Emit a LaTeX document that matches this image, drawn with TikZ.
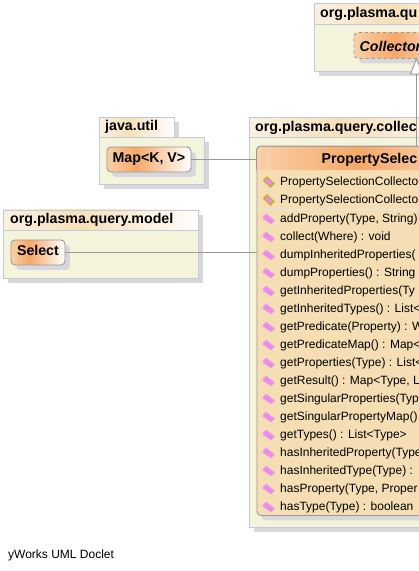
\documentclass[tikz,border=0pt]{standalone}
\usepackage{fontspec}
\setmainfont{Liberation Sans}
\usetikzlibrary{shadows}
\definecolor{pkgfill}{HTML}{F4F3DC}
\definecolor{pkgline}{HTML}{C4CADC}
\definecolor{pkgmid}{HTML}{F6E0B8}
\definecolor{pkgleft}{HTML}{FBF0E0}
\definecolor{shadowgray}{HTML}{D8D8DC}
\definecolor{classline}{HTML}{999999}
\definecolor{classmid}{HTML}{F5A868}
\definecolor{classleft}{HTML}{F9D0A8}
\definecolor{memberfill}{HTML}{F5DEB3}
\definecolor{iconpink}{HTML}{F088F0}
\definecolor{iconedge}{HTML}{E8A8E0}
\definecolor{ctoredge}{HTML}{C8B020}
\pgfdeclarehorizontalshading{classshade}{100bp}{color(0bp)=(classleft); color(25bp)=(classleft); color(42bp)=(classmid); color(75bp)=(white); color(100bp)=(white)}
\pgfdeclarehorizontalshading{pkgshade}{100bp}{color(0bp)=(pkgleft); color(25bp)=(pkgleft); color(45bp)=(pkgmid); color(75bp)=(white); color(100bp)=(white)}
\tikzset{
  boxshadow/.style={general shadow={shadow xshift=5pt,shadow yshift=-5pt,fill=shadowgray}},
  pkgbody/.style={draw=pkgline,line width=0.8pt,fill=pkgfill,anchor=north west,inner sep=0pt,boxshadow},
  pkghead/.style={draw=pkgline,line width=0.8pt,anchor=north west,inner sep=0pt,shading=pkgshade,boxshadow},
  classplain/.style={draw=classline,line width=0.9pt,rounded corners=4pt,anchor=north west,inner sep=0pt,
    font=\bfseries\fontsize{14.2}{14.2}\selectfont,boxshadow},
  classbox/.style={classplain,shading=classshade},
  pkgname/.style={anchor=west,inner sep=0pt,font=\bfseries\fontsize{14.2}{14.2}\selectfont},
  membertext/.style={anchor=west,inner sep=0pt,font=\fontsize{12}{12}\selectfont},
  assoc/.style={draw=classline,line width=0.9pt},
  methodicon/.style={fill=iconpink,draw=iconedge,line width=0.7pt},
  ctoricon/.style={fill=iconpink,draw=ctoredge,line width=1.1pt}
}
\begin{document}
\begin{tikzpicture}[x=1pt,y=-1pt]
\useasboundingbox (0,0) rectangle (419,571);
\clip (0,0) rectangle (419,571);
% package Collector
\node[pkghead,minimum width=200pt,minimum height=21.5pt] (collectorhead) at (313.5,3) {};
\node[pkgbody,minimum width=200pt,minimum height=47pt] (collectorbody) at (313.5,24) {};
\node[pkgname] (collectorname) at (320,14) {org.plasma.qu};
\node[classbox,dashed,minimum width=120pt,minimum height=26pt] (collector) at (353.5,32) {};
\node[pkgname,font=\bfseries\itshape\fontsize{14.2}{14.2}\selectfont] (collectorlabel) at (359.5,46) {Collector};
% package java.util
\node[pkghead,minimum width=75pt,minimum height=20.5pt] (utilhead) at (98.5,117) {};
\node[pkgbody,minimum width=105pt,minimum height=47pt] (utilbody) at (98.5,137) {};
\node[pkgname] (utilname) at (105,127) {java.util};
\node[classbox,minimum width=84pt,minimum height=25pt] (map) at (106.5,146.5) {\strut Map<K, V>};
% package model
\node[pkghead,minimum width=195.5pt,minimum height=21pt] (modelhead) at (2.5,209.5) {};
\node[pkgbody,minimum width=195.5pt,minimum height=47.5pt] (modelbody) at (2.5,230) {};
\node[pkgname] (modelname) at (10,220) {org.plasma.query.model};
\node[classbox,minimum width=54pt,minimum height=25pt] (select) at (10.5,239.5) {\strut Select};
% package collect
\node[pkghead,minimum width=240pt,minimum height=20.5pt] (queryhead) at (248.5,117) {};
\node[pkgbody,minimum width=240pt,minimum height=390pt] (querybody) at (248.5,137) {};
\node[pkgname] (queryname) at (255,127.5) {org.plasma.query.collec};
% class PropertySelector
\node[classplain,fill=memberfill,minimum width=300pt,minimum height=369pt] (selector) at (256.5,146) {};
\path[shading=classshade] (257,170) {[rounded corners=4pt] -- (257,146.5) -- (556,146.5)} -- (556,170) -- cycle;
\draw[classline,line width=0.9pt,rounded corners=4pt] (256.5,170) -- (256.5,146) -- (556,146);
\node[pkgname] (selectorlabel) at (321.5,160) {PropertySelec};
\draw[white!90!black,line width=1pt] (257,209) -- (419,209);
% members
\foreach \y/\name in {182/PropertySelectionCollecto,200/PropertySelectionCollecto}{
  \draw[ctoricon] (263.5,\y-1.5) -- (267,\y-5) -- (274,\y+1.5) -- (270.5,\y+5) -- cycle;
  \node[membertext] at (280,\y) {\name};
}
\foreach \y/\name in {219/{addProperty(Type, String)},237/{collect(Where) : void},255/{dumpInheritedProperties(},
  273/{dumpProperties() : String},291/{getInheritedProperties(Ty},309/{getInheritedTypes() : List<},
  327/{getPredicate(Property) : W},345/{getPredicateMap() : Map<},363/{getProperties(Type) : List<},
  381/{getResult() : Map<Type, L},399/{getSingularProperties(Typ},417/{getSingularPropertyMap()},
  435/{getTypes() : List<Type>},453/{hasInheritedProperty(Type},471/{hasInheritedType(Type) :},
  489/{hasProperty(Type, Proper},507/{hasType(Type) : boolean}}{
  \draw[methodicon] (262.5,\y-1) -- (266,\y-5) -- (274.5,\y+1.5) -- (271,\y+5) -- cycle;
  \node[membertext] at (280,\y) {\name};
}
% connectors
\draw[assoc] (map.east) -- (selector.west |- map.east);
\draw[assoc] (select.east) -- (selector.west |- select.east);
\coordinate (arrowbase) at (416.5,146);
\coordinate (arrowtop) at (416.5,74);
\draw[assoc] (arrowbase) -- (arrowtop);
\draw[classline,fill=white,line width=0.9pt] (416.5,58.5) -- (422.5,74) -- (410.5,74) -- cycle;
\node[anchor=west,inner sep=0pt,font=\fontsize{12}{12}\selectfont] (doclet) at (8,555) {yWorks UML Doclet};
\end{tikzpicture}
\end{document}
